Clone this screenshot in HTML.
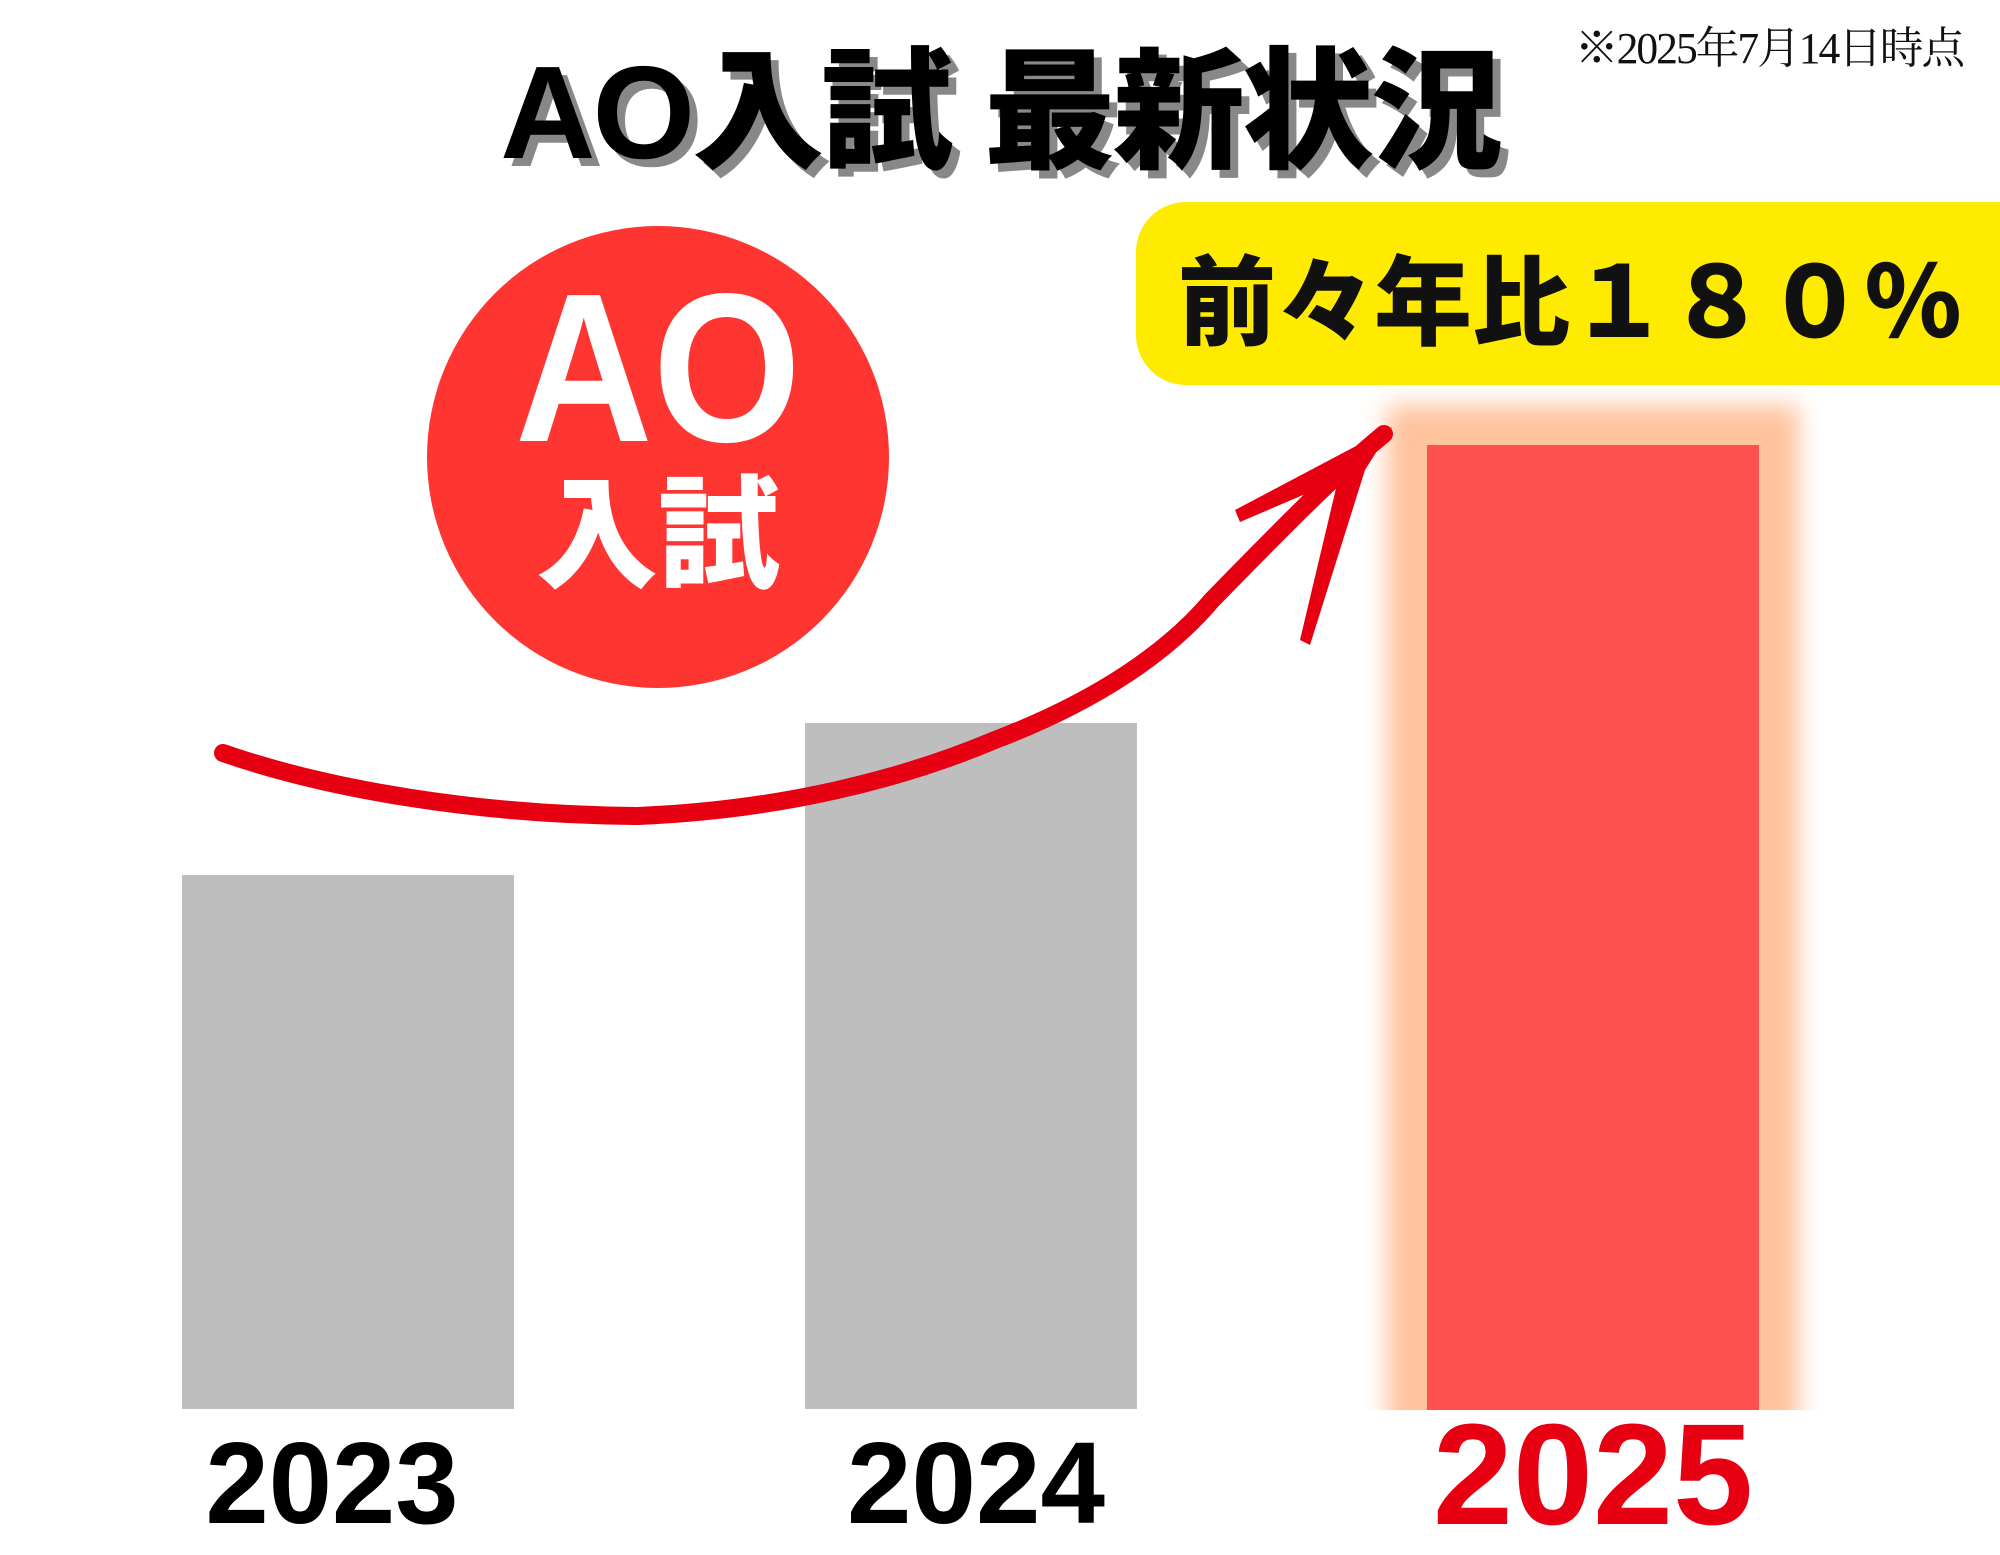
<!DOCTYPE html>
<html><head><meta charset="utf-8"><style>
html,body{margin:0;padding:0;background:#fff;}
body{width:2000px;height:1545px;position:relative;overflow:hidden;font-family:"Liberation Sans","Noto Sans CJK JP",sans-serif;}
.a{position:absolute;}
</style></head><body>
<div class="a" style="left:1575px;top:12px;font-family:'Liberation Serif','Noto Serif CJK SC',serif;font-size:44px;color:#111;white-space:nowrap;letter-spacing:-2px;transform:scaleX(0.99);transform-origin:left top;">※2025年7月14日時点</div>
<div class="a" style="left:450px;top:6px;width:1100px;text-align:center;font-size:132px;font-weight:900;color:#000;white-space:nowrap;text-shadow:8px 8px 0 #888;letter-spacing:-3px;">AO入試 最新状況</div>
<div class="a" style="left:1136px;top:202px;width:920px;height:183px;background:#ffeb00;border-radius:50px;"></div>
<div class="a" style="left:1178px;top:224px;font-size:98px;font-weight:900;color:#111;white-space:nowrap;font-family:'Noto Sans CJK JP',sans-serif;">前々年比１８０％</div>
<div class="a" style="left:427px;top:226px;width:462px;height:462px;border-radius:50%;background:#fe3530;"></div>
<div class="a" style="left:427px;top:262px;width:462px;text-align:center;font-size:212px;font-weight:700;color:#fff;line-height:212px;transform:scaleX(0.9);">AO</div>
<div class="a" style="left:427px;top:456px;width:462px;text-align:center;font-size:122px;font-weight:900;color:#fff;line-height:140px;font-family:'Noto Sans CJK JP',sans-serif;">入試</div>
<div class="a" style="left:182px;top:875px;width:332px;height:534px;background:#bebebe;"></div>
<div class="a" style="left:805px;top:723px;width:332px;height:686px;background:#bebebe;"></div>
<div class="a" style="left:1360px;top:380px;width:480px;height:1030px;overflow:hidden;">
<div class="a" style="left:67px;top:65px;width:332px;height:1100px;background:#ff5050;box-shadow:0 0 22px 40px #ffc39e;"></div>
</div>
<div class="a" style="left:1427px;top:445px;width:332px;height:964px;background:#ff5050;"></div>
<svg class="a" style="left:0;top:0" width="2000" height="1545">
<path d="M223 753 C330 790 480 815 638 816 C780 810 900 780 995 740 C1100 700 1170 650 1212 600 C1290 520 1340 470 1384 434" fill="none" stroke="#e60012" stroke-width="18" stroke-linecap="round"/>
<path d="M1392 427 L1235 510 L1240 522 L1338 480 L1300 640 L1310 645 L1365 470 Z" fill="#e60012"/>
</svg>
<div class="a" style="left:166px;top:1418px;width:332px;text-align:center;font-size:116px;font-weight:700;color:#000;line-height:130px;transform:scaleX(0.98);">2023</div>
<div class="a" style="left:810px;top:1418px;width:332px;text-align:center;font-size:116px;font-weight:700;color:#000;line-height:130px;transform:scaleX(1.0);">2024</div>
<div class="a" style="left:1410px;top:1400px;width:366px;text-align:center;font-size:144px;font-weight:700;color:#e60012;line-height:150px;transform:scaleX(1.0);">2025</div>
</body></html>
